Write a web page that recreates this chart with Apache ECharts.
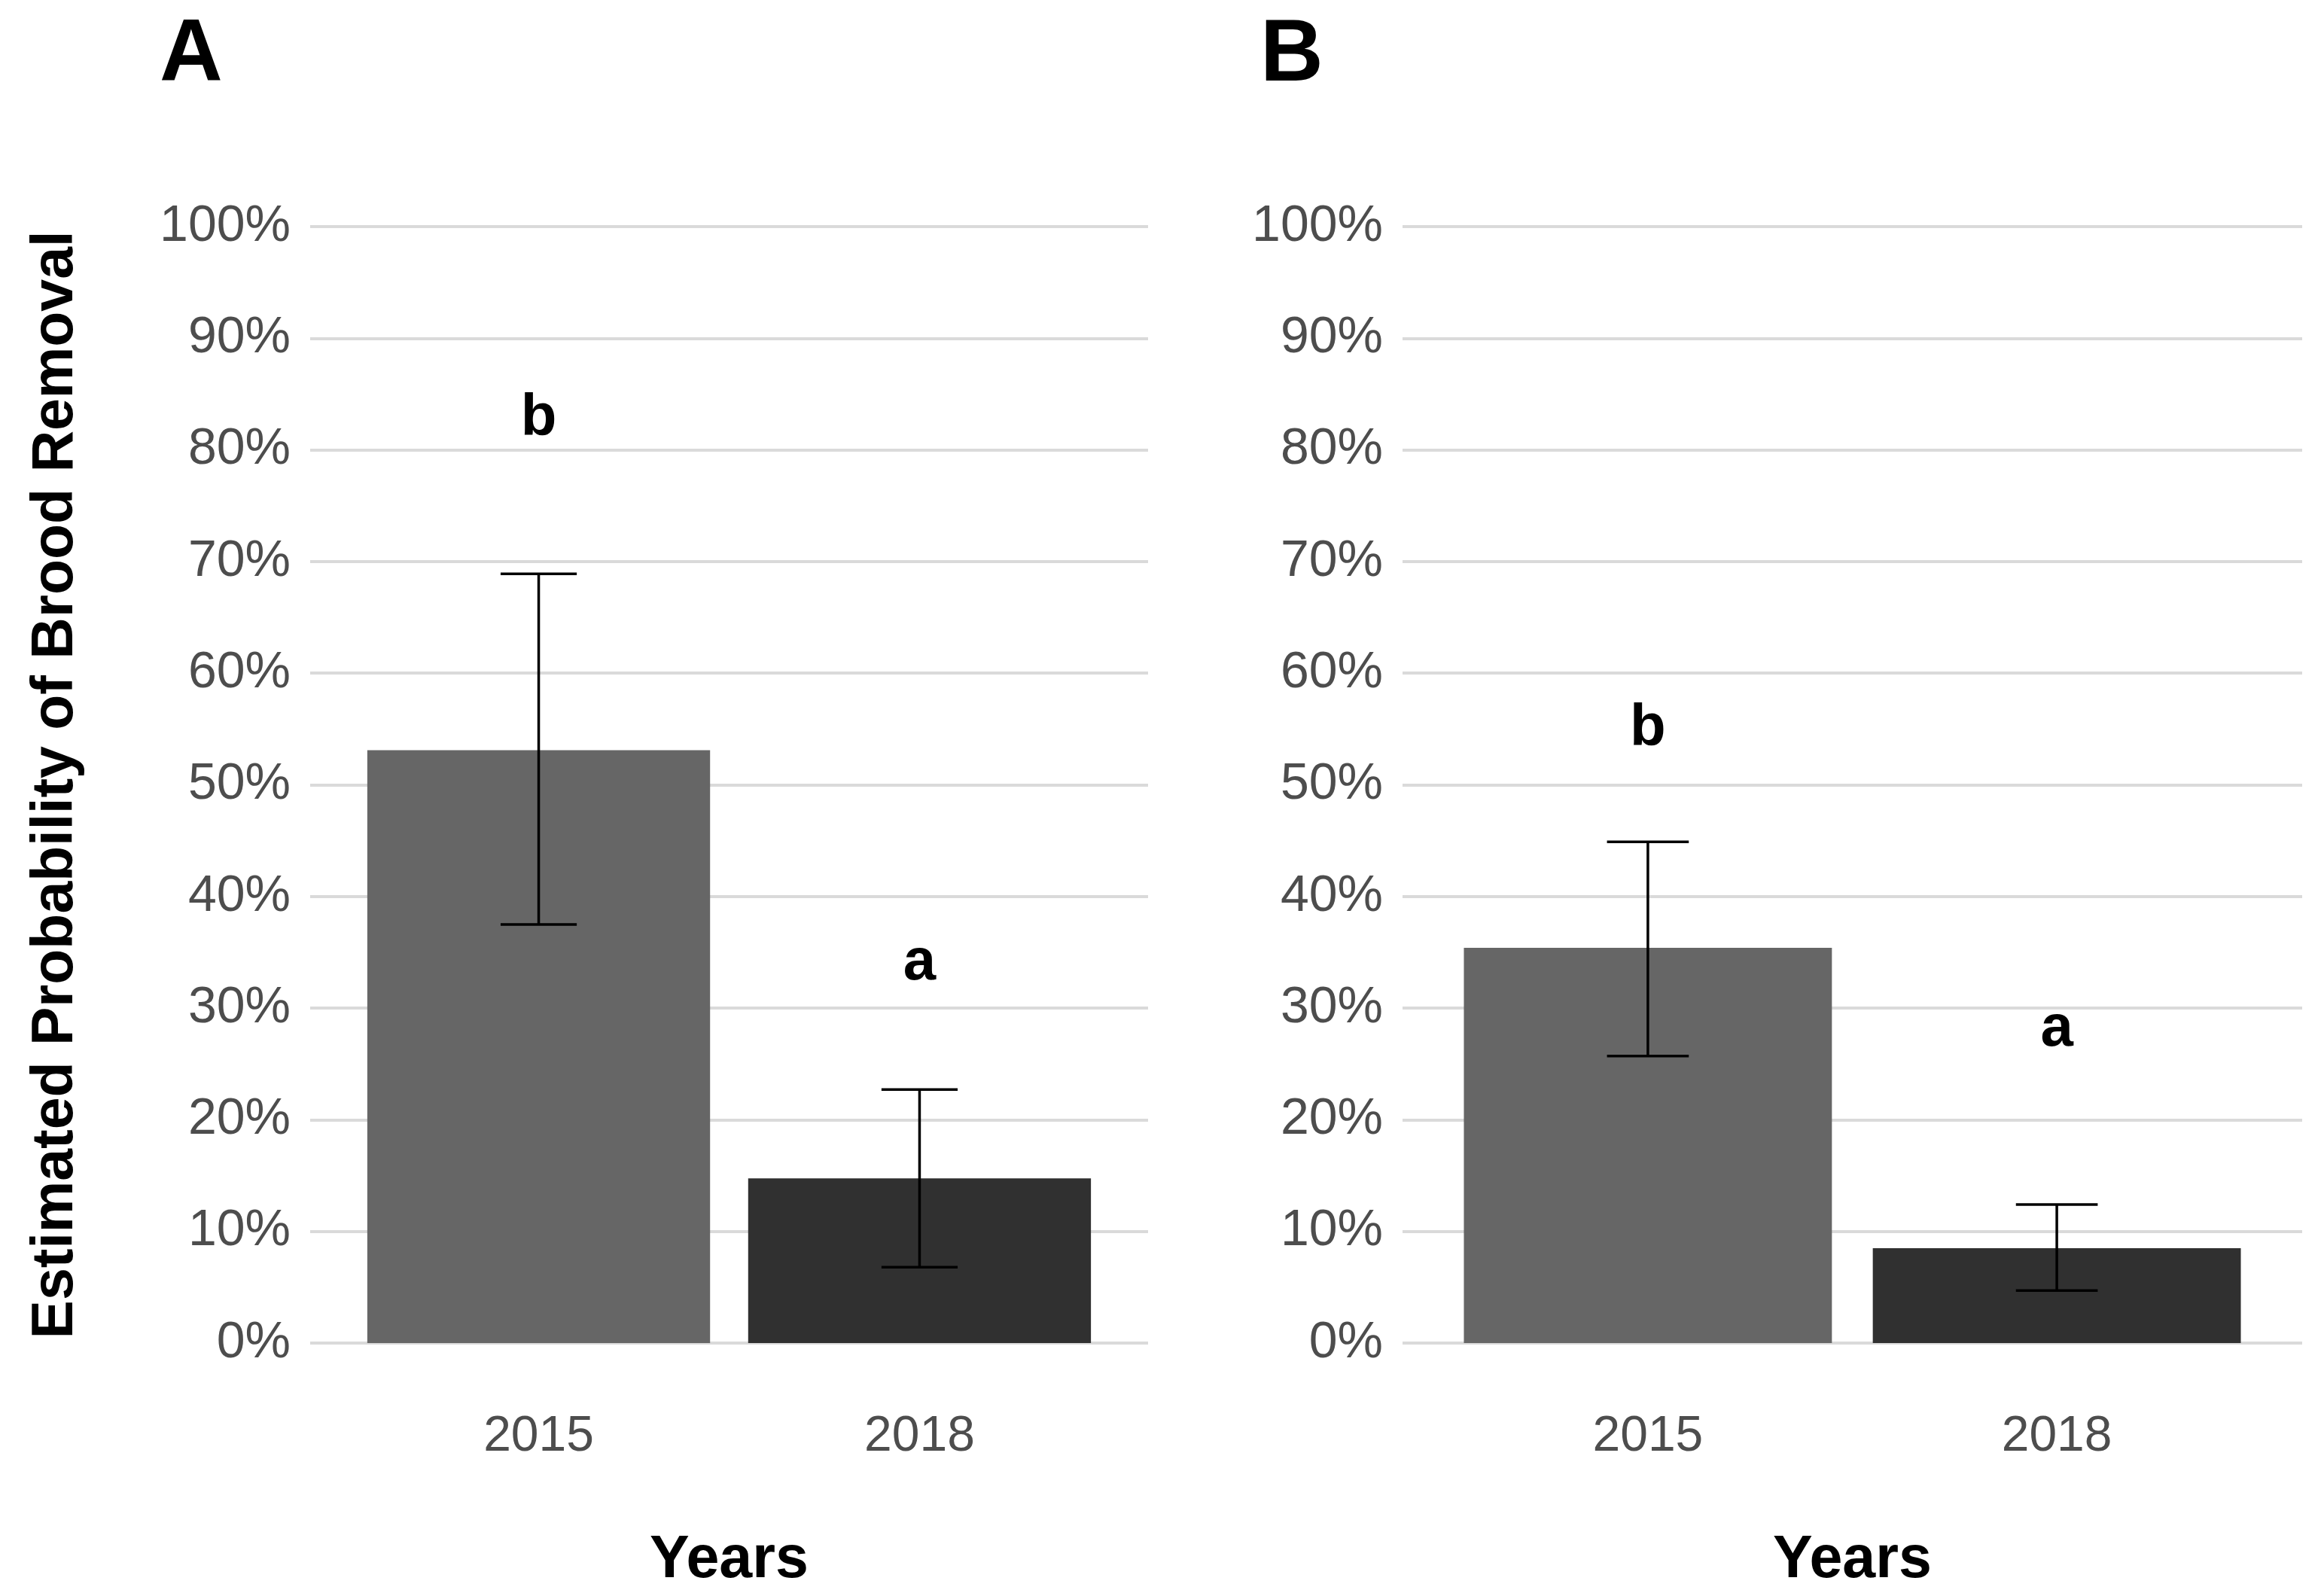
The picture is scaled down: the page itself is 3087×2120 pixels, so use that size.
<!DOCTYPE html>
<html>
<head>
<meta charset="utf-8">
<script src="https://cdn.jsdelivr.net/npm/echarts@6/dist/echarts.min.js"></script>
<style>
  html, body { margin: 0; padding: 0; background: #ffffff; }
  #chart { width: 3087px; height: 2120px; }
</style>
</head>
<body>
<div id="chart"></div>
<script>
// ---- Data (percent) ----
const years = ['2015', '2018'];
const yTicks = [0, 10, 20, 30, 40, 50, 60, 70, 80, 90, 100];

const aEstimate = [53.1, 14.75];
const aLower = [37.5, 6.8];
const aUpper = [68.9, 22.7];
const aLetters = ['b', 'a'];
const aLetterY = [82.8, 34.0];

const bEstimate = [35.4, 8.5];
const bLower = [25.7, 4.7];
const bUpper = [44.9, 12.4];
const bLetters = ['b', 'a'];
const bLetterY = [55.0, 28.1];

// ---- Styles ----
const FONT = '"Liberation Sans", Arial, sans-serif';
const barColors = ['#666666', '#303030'];
const gridColor = '#dadada';

const chart = echarts.init(document.getElementById('chart'), null, { renderer: 'canvas' });

function wideY(idx, showName) {
  return {
    type: 'value', gridIndex: idx, min: 0, max: 100, interval: 10,
    axisLine: { show: false }, axisTick: { show: false },
    axisLabel: { show: true, formatter: '{value}%', color: '#4d4d4d', fontSize: 68, fontFamily: FONT, margin: 26 },
    splitLine: { show: true, lineStyle: { color: gridColor, width: 4 } },
    name: showName ? 'Estimated Probability of Brood Removal' : '',
    nameLocation: 'middle', nameGap: 299,
    nameTextStyle: { fontSize: 77, fontWeight: 'bold', color: '#000', fontFamily: FONT }
  };
}
function narrowY(idx) {
  return {
    type: 'value', gridIndex: idx, min: 0, max: 100, interval: 10,
    axisLine: { show: false }, axisTick: { show: false }, axisLabel: { show: false }, splitLine: { show: false }
  };
}
function wideX(idx) {
  return { type: 'value', gridIndex: idx, show: false, min: 0, max: 1 };
}
function narrowX(idx) {
  return {
    type: 'category', gridIndex: idx, data: years,
    axisLine: { show: false }, axisTick: { show: false }, splitLine: { show: false },
    axisLabel: { color: '#4d4d4d', fontSize: 66, fontFamily: FONT, margin: 92 },
    name: 'Years', nameLocation: 'middle', nameGap: 250,
    nameTextStyle: { fontSize: 79, fontWeight: 'bold', color: '#000', fontFamily: FONT, verticalAlign: 'top' }
  };
}

function errRender(params, api) {
  const i = api.value(0);
  const lo = api.coord([i, api.value(1)]);
  const hi = api.coord([i, api.value(2)]);
  const w = api.size([1, 0])[0] * 0.2;
  const st = { stroke: '#000000', lineWidth: 3.5 };
  return {
    type: 'group',
    children: [
      { type: 'line', shape: { x1: hi[0], y1: hi[1], x2: lo[0], y2: lo[1] }, style: st },
      { type: 'line', shape: { x1: hi[0] - w / 2, y1: hi[1], x2: hi[0] + w / 2, y2: hi[1] }, style: st },
      { type: 'line', shape: { x1: lo[0] - w / 2, y1: lo[1], x2: lo[0] + w / 2, y2: lo[1] }, style: st }
    ]
  };
}
function letterRender(letters) {
  return function (params, api) {
    const i = api.value(0);
    const p = api.coord([i, api.value(1)]);
    return {
      type: 'text',
      style: {
        text: letters[params.dataIndex], x: p[0], y: p[1],
        align: 'center', verticalAlign: 'middle',
        font: 'bold 78px ' + FONT, fill: '#000000'
      }
    };
  };
}

function panelSeries(xi, est, lower, upper, letters, letterY) {
  return [
    {
      type: 'bar', xAxisIndex: xi, yAxisIndex: xi, data: est, barWidth: '90%',
      itemStyle: { color: (p) => barColors[p.dataIndex] }, silent: true
    },
    {
      type: 'custom', xAxisIndex: xi, yAxisIndex: xi,
      data: years.map((y, i) => [i, lower[i], upper[i]]),
      encode: { x: 0, y: [1, 2] }, renderItem: errRender, silent: true, z: 5
    },
    {
      type: 'custom', xAxisIndex: xi, yAxisIndex: xi,
      data: years.map((y, i) => [i, letterY[i]]),
      encode: { x: 0, y: 1 }, renderItem: letterRender(letters), silent: true, z: 6
    }
  ];
}

const CH = 2120, CW = 3087;
const gTop = 301, gBottom = CH - 1784;
// Panel A: plot area 412..1525 ; Panel B: 1863..3058
const aL = 412, aR = 1525, bL = 1863, bR = 3058;
const aU = (aR - aL) / 2.2, bU = (bR - bL) / 2.2;

const option = {
  backgroundColor: '#ffffff',
  animation: false,
  title: [
    { text: 'A', left: 207, top: 12, textStyle: { fontSize: 116, fontWeight: 'bold', color: '#000', fontFamily: FONT } },
    { text: 'B', left: 1669, top: 12, textStyle: { fontSize: 116, fontWeight: 'bold', color: '#000', fontFamily: FONT } }
  ],
  grid: [
    { left: aL, right: CW - aR, top: gTop, bottom: gBottom },
    { left: aL + 0.1 * aU, right: CW - (aR - 0.1 * aU), top: gTop, bottom: gBottom },
    { left: bL, right: CW - bR, top: gTop, bottom: gBottom },
    { left: bL + 0.1 * bU, right: CW - (bR - 0.1 * bU), top: gTop, bottom: gBottom }
  ],
  xAxis: [wideX(0), narrowX(1), wideX(2), narrowX(3)],
  yAxis: [wideY(0, true), narrowY(1), wideY(2, false), narrowY(3)],
  series: [].concat(
    panelSeries(1, aEstimate, aLower, aUpper, aLetters, aLetterY),
    panelSeries(3, bEstimate, bLower, bUpper, bLetters, bLetterY)
  )
};
chart.setOption(option);
</script>
</body>
</html>
